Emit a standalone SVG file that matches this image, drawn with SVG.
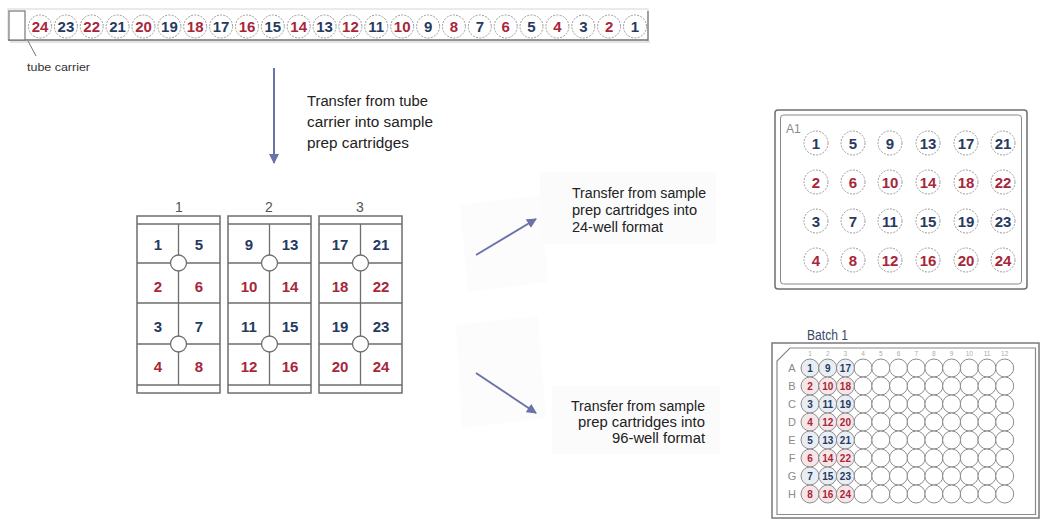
<svg xmlns="http://www.w3.org/2000/svg" width="1053" height="519" viewBox="0 0 1053 519">
<style>
text{font-family:"Liberation Sans",Arial,sans-serif}
.nb{fill:#263a60;font-weight:bold;text-anchor:middle}
.nr{fill:#a8263a;font-weight:bold;text-anchor:middle}
.t15{font-size:15px}
.t14{font-size:15px}
.t10{font-size:10px}
.dw{fill:#fff;stroke:#9a9a9a;stroke-width:1;stroke-dasharray:2 1.3}
.w96{fill:#fff;stroke:#8c8c8c;stroke-width:1}
.w96r{fill:#f7e6e8;stroke:#8c8c8c;stroke-width:1}
.w96b{fill:#e9edf4;stroke:#8c8c8c;stroke-width:1}
.frame{fill:#fff;stroke:#6e6e6e;stroke-width:1.5}
.ln{stroke:#6e6e6e;stroke-width:1.3;fill:none}
.lbl{fill:#222;font-size:14px}
.arr{stroke:#6a73a8;stroke-width:2;fill:none}
.gray{fill:#8a8a8a}
</style>
<defs>
<marker id="ah" viewBox="0 0 10 10" refX="9" refY="5" markerWidth="5" markerHeight="5" orient="auto" markerUnits="strokeWidth">
<path d="M0,0 L10,5 L0,10 z" fill="#6a73a8"/>
</marker>
</defs>
<rect width="1053" height="519" fill="#fff"/>
<!-- faint scan patches -->
<polygon points="460,205 540,195 548,282 468,292" fill="#fcfcfd"/>
<polygon points="456,325 538,316 546,418 462,428" fill="#fcfcfd"/>
<rect x="540" y="172" width="176" height="72" fill="#fbfbfb"/>
<rect x="552" y="386" width="168" height="68" fill="#fbfbfb"/>

<!-- tube carrier -->
<g id="tube-carrier">
<rect x="8" y="9" width="640" height="31" fill="#fff" stroke="#d6d6d6" stroke-width="1"/>
<line x1="8" y1="40" x2="648" y2="40" stroke="#777" stroke-width="1.3"/>
<line x1="10" y1="42" x2="650" y2="42" stroke="#c8c8c8" stroke-width="1"/>
<line x1="648" y1="11" x2="648" y2="41" stroke="#777" stroke-width="1.3"/>
<rect x="9" y="11" width="16" height="29" fill="#fff" stroke="#777" stroke-width="1.2"/>
<line x1="28" y1="41" x2="36" y2="56" stroke="#777" stroke-width="1"/>
<text x="27" y="71" font-size="11" fill="#333" textLength="63" lengthAdjust="spacingAndGlyphs">tube carrier</text>
<g>
<circle class="dw" cx="40" cy="26.5" r="11.5"/><text class="nr t14" x="40" y="32">24</text>
<circle class="dw" cx="65.9" cy="26.5" r="11.5"/><text class="nb t14" x="65.9" y="32">23</text>
<circle class="dw" cx="91.7" cy="26.5" r="11.5"/><text class="nr t14" x="91.7" y="32">22</text>
<circle class="dw" cx="117.6" cy="26.5" r="11.5"/><text class="nb t14" x="117.6" y="32">21</text>
<circle class="dw" cx="143.5" cy="26.5" r="11.5"/><text class="nr t14" x="143.5" y="32">20</text>
<circle class="dw" cx="169.4" cy="26.5" r="11.5"/><text class="nb t14" x="169.4" y="32">19</text>
<circle class="dw" cx="195.2" cy="26.5" r="11.5"/><text class="nr t14" x="195.2" y="32">18</text>
<circle class="dw" cx="221.1" cy="26.5" r="11.5"/><text class="nb t14" x="221.1" y="32">17</text>
<circle class="dw" cx="247" cy="26.5" r="11.5"/><text class="nr t14" x="247" y="32">16</text>
<circle class="dw" cx="272.8" cy="26.5" r="11.5"/><text class="nb t14" x="272.8" y="32">15</text>
<circle class="dw" cx="298.7" cy="26.5" r="11.5"/><text class="nr t14" x="298.7" y="32">14</text>
<circle class="dw" cx="324.6" cy="26.5" r="11.5"/><text class="nb t14" x="324.6" y="32">13</text>
<circle class="dw" cx="350.4" cy="26.5" r="11.5"/><text class="nr t14" x="350.4" y="32">12</text>
<circle class="dw" cx="376.3" cy="26.5" r="11.5"/><text class="nb t14" x="376.3" y="32">11</text>
<circle class="dw" cx="402.2" cy="26.5" r="11.5"/><text class="nr t14" x="402.2" y="32">10</text>
<circle class="dw" cx="428.1" cy="26.5" r="11.5"/><text class="nb t14" x="428.1" y="32">9</text>
<circle class="dw" cx="453.9" cy="26.5" r="11.5"/><text class="nr t14" x="453.9" y="32">8</text>
<circle class="dw" cx="479.8" cy="26.5" r="11.5"/><text class="nb t14" x="479.8" y="32">7</text>
<circle class="dw" cx="505.7" cy="26.5" r="11.5"/><text class="nr t14" x="505.7" y="32">6</text>
<circle class="dw" cx="531.5" cy="26.5" r="11.5"/><text class="nb t14" x="531.5" y="32">5</text>
<circle class="dw" cx="557.4" cy="26.5" r="11.5"/><text class="nr t14" x="557.4" y="32">4</text>
<circle class="dw" cx="583.3" cy="26.5" r="11.5"/><text class="nb t14" x="583.3" y="32">3</text>
<circle class="dw" cx="609.1" cy="26.5" r="11.5"/><text class="nr t14" x="609.1" y="32">2</text>
<circle class="dw" cx="635" cy="26.5" r="11.5"/><text class="nb t14" x="635" y="32">1</text>
</g>
</g>

<!-- connectors -->
<g id="connectors">
<line class="arr" x1="274" y1="68" x2="274" y2="163" marker-end="url(#ah)"/>
<line class="arr" x1="476" y1="255" x2="536" y2="219" marker-end="url(#ah)"/>
<line class="arr" x1="476" y1="373" x2="536" y2="413" marker-end="url(#ah)"/>
</g>

<!-- labels -->
<g id="label-1">
<text class="lbl" font-size="16.5" x="307" y="106" textLength="121" lengthAdjust="spacingAndGlyphs">Transfer from tube</text>
<text class="lbl" font-size="16.5" x="307" y="127" textLength="126" lengthAdjust="spacingAndGlyphs">carrier into sample</text>
<text class="lbl" font-size="16.5" x="307" y="147.5" textLength="102" lengthAdjust="spacingAndGlyphs">prep cartridges</text>
</g>
<g id="label-2">
<text class="lbl" x="572" y="198" textLength="134" lengthAdjust="spacingAndGlyphs">Transfer from sample</text>
<text class="lbl" x="572" y="215" textLength="125" lengthAdjust="spacingAndGlyphs">prep cartridges into</text>
<text class="lbl" x="572" y="232" textLength="91" lengthAdjust="spacingAndGlyphs">24-well format</text>
</g>
<g id="label-3">
<text class="lbl" x="571" y="411" textLength="134" lengthAdjust="spacingAndGlyphs">Transfer from sample</text>
<text class="lbl" x="578" y="427" textLength="127" lengthAdjust="spacingAndGlyphs">prep cartridges into</text>
<text class="lbl" x="612" y="443" textLength="93" lengthAdjust="spacingAndGlyphs">96-well format</text>
</g>

<!-- cartridges -->
<g id="cartridge-1">
<text x="179" y="212" font-size="14" fill="#555" text-anchor="middle">1</text>
<rect class="frame" x="137" y="216" width="83" height="177"/>
<path class="ln" d="M137,224H220M137,263H220M137,303H220M137,344H220M137,385H220M178.5,224V385"/>
<circle cx="178.5" cy="263" r="8" fill="#fff" stroke="#6e6e6e" stroke-width="1.3"/>
<circle cx="178.5" cy="344" r="8" fill="#fff" stroke="#6e6e6e" stroke-width="1.3"/>
<text class="nb t15" x="158" y="250">1</text><text class="nb t15" x="199" y="250">5</text>
<text class="nr t15" x="158" y="292">2</text><text class="nr t15" x="199" y="292">6</text>
<text class="nb t15" x="158" y="332">3</text><text class="nb t15" x="199" y="332">7</text>
<text class="nr t15" x="158" y="372">4</text><text class="nr t15" x="199" y="372">8</text>
</g>
<g id="cartridge-2">
<text x="269" y="212" font-size="14" fill="#555" text-anchor="middle">2</text>
<rect class="frame" x="228" y="216" width="83" height="177"/>
<path class="ln" d="M228,224H311M228,263H311M228,303H311M228,344H311M228,385H311M269.5,224V385"/>
<circle cx="269.5" cy="263" r="8" fill="#fff" stroke="#6e6e6e" stroke-width="1.3"/>
<circle cx="269.5" cy="344" r="8" fill="#fff" stroke="#6e6e6e" stroke-width="1.3"/>
<text class="nb t15" x="249" y="250">9</text><text class="nb t15" x="290" y="250">13</text>
<text class="nr t15" x="249" y="292">10</text><text class="nr t15" x="290" y="292">14</text>
<text class="nb t15" x="249" y="332">11</text><text class="nb t15" x="290" y="332">15</text>
<text class="nr t15" x="249" y="372">12</text><text class="nr t15" x="290" y="372">16</text>
</g>
<g id="cartridge-3">
<text x="360" y="212" font-size="14" fill="#555" text-anchor="middle">3</text>
<rect class="frame" x="319" y="216" width="83" height="177"/>
<path class="ln" d="M319,224H402M319,263H402M319,303H402M319,344H402M319,385H402M360.5,224V385"/>
<circle cx="360.5" cy="263" r="8" fill="#fff" stroke="#6e6e6e" stroke-width="1.3"/>
<circle cx="360.5" cy="344" r="8" fill="#fff" stroke="#6e6e6e" stroke-width="1.3"/>
<text class="nb t15" x="340" y="250">17</text><text class="nb t15" x="381" y="250">21</text>
<text class="nr t15" x="340" y="292">18</text><text class="nr t15" x="381" y="292">22</text>
<text class="nb t15" x="340" y="332">19</text><text class="nb t15" x="381" y="332">23</text>
<text class="nr t15" x="340" y="372">20</text><text class="nr t15" x="381" y="372">24</text>
</g>

<!-- 24-well plate -->
<g id="plate-24">
<rect x="775" y="110" width="252" height="179" rx="3" fill="#fff" stroke="#6e6e6e" stroke-width="1.5"/>
<rect x="780.5" y="115" width="241" height="169" rx="3" fill="none" stroke="#8a8a8a" stroke-width="1"/>
<text x="786" y="133" font-size="12" class="gray">A1</text>
<circle class="dw" cx="816" cy="143" r="12"/><text class="nb t15" x="816" y="148.5">1</text>
<circle class="dw" cx="853" cy="143" r="12"/><text class="nb t15" x="853" y="148.5">5</text>
<circle class="dw" cx="890" cy="143" r="12"/><text class="nb t15" x="890" y="148.5">9</text>
<circle class="dw" cx="928" cy="143" r="12"/><text class="nb t15" x="928" y="148.5">13</text>
<circle class="dw" cx="966" cy="143" r="12"/><text class="nb t15" x="966" y="148.5">17</text>
<circle class="dw" cx="1003" cy="143" r="12"/><text class="nb t15" x="1003" y="148.5">21</text>
<circle class="dw" cx="816" cy="182" r="12"/><text class="nr t15" x="816" y="187.5">2</text>
<circle class="dw" cx="853" cy="182" r="12"/><text class="nr t15" x="853" y="187.5">6</text>
<circle class="dw" cx="890" cy="182" r="12"/><text class="nr t15" x="890" y="187.5">10</text>
<circle class="dw" cx="928" cy="182" r="12"/><text class="nr t15" x="928" y="187.5">14</text>
<circle class="dw" cx="966" cy="182" r="12"/><text class="nr t15" x="966" y="187.5">18</text>
<circle class="dw" cx="1003" cy="182" r="12"/><text class="nr t15" x="1003" y="187.5">22</text>
<circle class="dw" cx="816" cy="221" r="12"/><text class="nb t15" x="816" y="226.5">3</text>
<circle class="dw" cx="853" cy="221" r="12"/><text class="nb t15" x="853" y="226.5">7</text>
<circle class="dw" cx="890" cy="221" r="12"/><text class="nb t15" x="890" y="226.5">11</text>
<circle class="dw" cx="928" cy="221" r="12"/><text class="nb t15" x="928" y="226.5">15</text>
<circle class="dw" cx="966" cy="221" r="12"/><text class="nb t15" x="966" y="226.5">19</text>
<circle class="dw" cx="1003" cy="221" r="12"/><text class="nb t15" x="1003" y="226.5">23</text>
<circle class="dw" cx="816" cy="260" r="12"/><text class="nr t15" x="816" y="265.5">4</text>
<circle class="dw" cx="853" cy="260" r="12"/><text class="nr t15" x="853" y="265.5">8</text>
<circle class="dw" cx="890" cy="260" r="12"/><text class="nr t15" x="890" y="265.5">12</text>
<circle class="dw" cx="928" cy="260" r="12"/><text class="nr t15" x="928" y="265.5">16</text>
<circle class="dw" cx="966" cy="260" r="12"/><text class="nr t15" x="966" y="265.5">20</text>
<circle class="dw" cx="1003" cy="260" r="12"/><text class="nr t15" x="1003" y="265.5">24</text>
</g>

<!-- 96-well plate -->
<g id="plate-96">
<text x="807" y="340" font-size="14" fill="#3b4a6b" textLength="41" lengthAdjust="spacingAndGlyphs">Batch 1</text>
<rect x="772" y="343" width="267" height="175" fill="#fff" stroke="#7a7a7a" stroke-width="1.5"/>
<path d="M790,348H1035.5V514.5H777V361Z" fill="none" stroke="#8a8a8a" stroke-width="1.2"/>
<g font-size="6.5" fill="#aaa" text-anchor="middle">
<text x="810" y="356">1</text><text x="827.7" y="356">2</text><text x="845.4" y="356">3</text><text x="863.1" y="356">4</text><text x="880.8" y="356">5</text><text x="898.5" y="356">6</text><text x="916.2" y="356">7</text><text x="933.9" y="356">8</text><text x="951.6" y="356">9</text><text x="969.3" y="356">10</text><text x="987" y="356">11</text><text x="1004.7" y="356">12</text>
</g>
<g font-size="11" fill="#8a8a8a" text-anchor="middle">
<text x="792" y="372">A</text><text x="792" y="390">B</text><text x="792" y="408">C</text><text x="792" y="426">D</text><text x="792" y="444">E</text><text x="792" y="462">F</text><text x="792" y="480">G</text><text x="792" y="498">H</text>
</g>
<g class="w96">
<circle cx="863.1" cy="368" r="9"/><circle cx="880.8" cy="368" r="9"/><circle cx="898.5" cy="368" r="9"/><circle cx="916.2" cy="368" r="9"/><circle cx="933.9" cy="368" r="9"/><circle cx="951.6" cy="368" r="9"/><circle cx="969.3" cy="368" r="9"/><circle cx="987" cy="368" r="9"/><circle cx="1004.7" cy="368" r="9"/>
<circle cx="863.1" cy="386" r="9"/><circle cx="880.8" cy="386" r="9"/><circle cx="898.5" cy="386" r="9"/><circle cx="916.2" cy="386" r="9"/><circle cx="933.9" cy="386" r="9"/><circle cx="951.6" cy="386" r="9"/><circle cx="969.3" cy="386" r="9"/><circle cx="987" cy="386" r="9"/><circle cx="1004.7" cy="386" r="9"/>
<circle cx="863.1" cy="404" r="9"/><circle cx="880.8" cy="404" r="9"/><circle cx="898.5" cy="404" r="9"/><circle cx="916.2" cy="404" r="9"/><circle cx="933.9" cy="404" r="9"/><circle cx="951.6" cy="404" r="9"/><circle cx="969.3" cy="404" r="9"/><circle cx="987" cy="404" r="9"/><circle cx="1004.7" cy="404" r="9"/>
<circle cx="863.1" cy="422" r="9"/><circle cx="880.8" cy="422" r="9"/><circle cx="898.5" cy="422" r="9"/><circle cx="916.2" cy="422" r="9"/><circle cx="933.9" cy="422" r="9"/><circle cx="951.6" cy="422" r="9"/><circle cx="969.3" cy="422" r="9"/><circle cx="987" cy="422" r="9"/><circle cx="1004.7" cy="422" r="9"/>
<circle cx="863.1" cy="440" r="9"/><circle cx="880.8" cy="440" r="9"/><circle cx="898.5" cy="440" r="9"/><circle cx="916.2" cy="440" r="9"/><circle cx="933.9" cy="440" r="9"/><circle cx="951.6" cy="440" r="9"/><circle cx="969.3" cy="440" r="9"/><circle cx="987" cy="440" r="9"/><circle cx="1004.7" cy="440" r="9"/>
<circle cx="863.1" cy="458" r="9"/><circle cx="880.8" cy="458" r="9"/><circle cx="898.5" cy="458" r="9"/><circle cx="916.2" cy="458" r="9"/><circle cx="933.9" cy="458" r="9"/><circle cx="951.6" cy="458" r="9"/><circle cx="969.3" cy="458" r="9"/><circle cx="987" cy="458" r="9"/><circle cx="1004.7" cy="458" r="9"/>
<circle cx="863.1" cy="476" r="9"/><circle cx="880.8" cy="476" r="9"/><circle cx="898.5" cy="476" r="9"/><circle cx="916.2" cy="476" r="9"/><circle cx="933.9" cy="476" r="9"/><circle cx="951.6" cy="476" r="9"/><circle cx="969.3" cy="476" r="9"/><circle cx="987" cy="476" r="9"/><circle cx="1004.7" cy="476" r="9"/>
<circle cx="863.1" cy="494" r="9"/><circle cx="880.8" cy="494" r="9"/><circle cx="898.5" cy="494" r="9"/><circle cx="916.2" cy="494" r="9"/><circle cx="933.9" cy="494" r="9"/><circle cx="951.6" cy="494" r="9"/><circle cx="969.3" cy="494" r="9"/><circle cx="987" cy="494" r="9"/><circle cx="1004.7" cy="494" r="9"/>
</g>
<circle class="w96b" cx="810" cy="368" r="9"/><circle class="w96b" cx="827.7" cy="368" r="9"/><circle class="w96b" cx="845.4" cy="368" r="9"/>
<circle class="w96r" cx="810" cy="386" r="9"/><circle class="w96r" cx="827.7" cy="386" r="9"/><circle class="w96r" cx="845.4" cy="386" r="9"/>
<circle class="w96b" cx="810" cy="404" r="9"/><circle class="w96b" cx="827.7" cy="404" r="9"/><circle class="w96b" cx="845.4" cy="404" r="9"/>
<circle class="w96r" cx="810" cy="422" r="9"/><circle class="w96r" cx="827.7" cy="422" r="9"/><circle class="w96r" cx="845.4" cy="422" r="9"/>
<circle class="w96b" cx="810" cy="440" r="9"/><circle class="w96b" cx="827.7" cy="440" r="9"/><circle class="w96b" cx="845.4" cy="440" r="9"/>
<circle class="w96r" cx="810" cy="458" r="9"/><circle class="w96r" cx="827.7" cy="458" r="9"/><circle class="w96r" cx="845.4" cy="458" r="9"/>
<circle class="w96b" cx="810" cy="476" r="9"/><circle class="w96b" cx="827.7" cy="476" r="9"/><circle class="w96b" cx="845.4" cy="476" r="9"/>
<circle class="w96r" cx="810" cy="494" r="9"/><circle class="w96r" cx="827.7" cy="494" r="9"/><circle class="w96r" cx="845.4" cy="494" r="9"/>
<text class="nb t10" x="810" y="371.5">1</text><text class="nb t10" x="827.7" y="371.5">9</text><text class="nb t10" x="845.4" y="371.5">17</text>
<text class="nr t10" x="810" y="389.5">2</text><text class="nr t10" x="827.7" y="389.5">10</text><text class="nr t10" x="845.4" y="389.5">18</text>
<text class="nb t10" x="810" y="407.5">3</text><text class="nb t10" x="827.7" y="407.5">11</text><text class="nb t10" x="845.4" y="407.5">19</text>
<text class="nr t10" x="810" y="425.5">4</text><text class="nr t10" x="827.7" y="425.5">12</text><text class="nr t10" x="845.4" y="425.5">20</text>
<text class="nb t10" x="810" y="443.5">5</text><text class="nb t10" x="827.7" y="443.5">13</text><text class="nb t10" x="845.4" y="443.5">21</text>
<text class="nr t10" x="810" y="461.5">6</text><text class="nr t10" x="827.7" y="461.5">14</text><text class="nr t10" x="845.4" y="461.5">22</text>
<text class="nb t10" x="810" y="479.5">7</text><text class="nb t10" x="827.7" y="479.5">15</text><text class="nb t10" x="845.4" y="479.5">23</text>
<text class="nr t10" x="810" y="497.5">8</text><text class="nr t10" x="827.7" y="497.5">16</text><text class="nr t10" x="845.4" y="497.5">24</text>
</g>
</svg>
